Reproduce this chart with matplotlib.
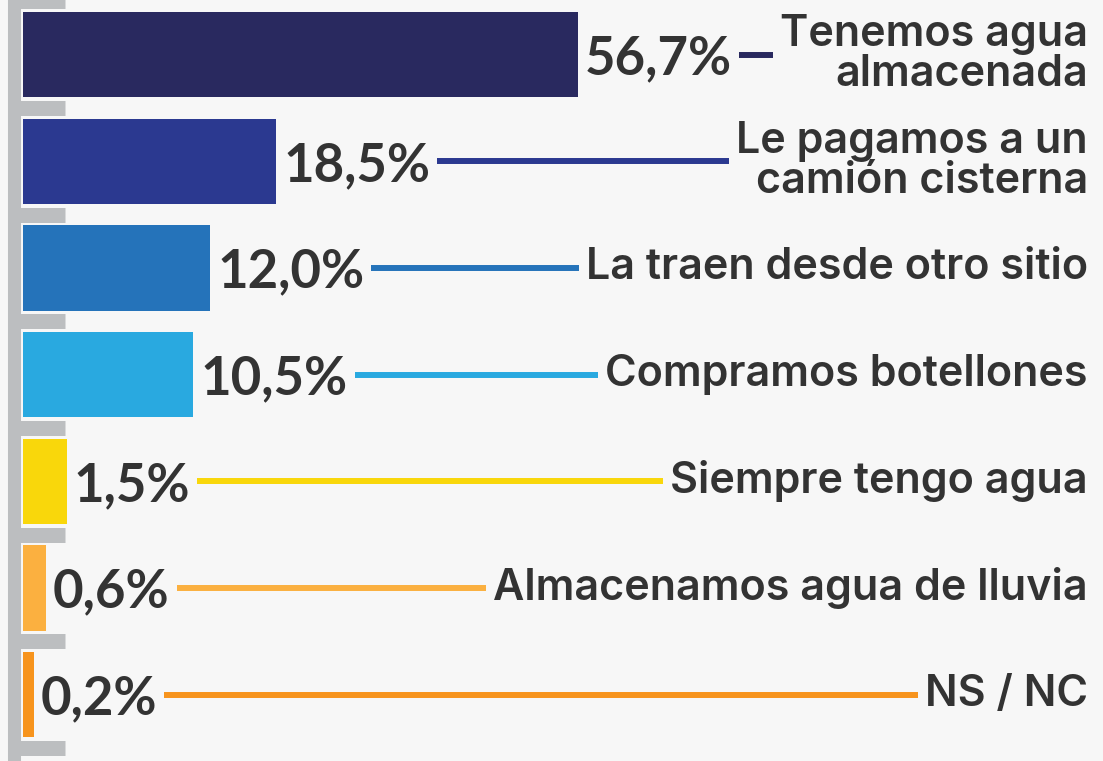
import numpy as np
import matplotlib.pyplot as plt
from matplotlib.transforms import blended_transform_factory

# data
categories = ["Tenemos agua\nalmacenada", "Le pagamos a un\ncamión cisterna",
              "La traen desde otro sitio", "Compramos botellones",
              "Siempre tengo agua", "Almacenamos agua de lluvia", "NS / NC"]
values = [56.7, 18.5, 12.0, 10.5, 1.5, 0.6, 0.2]
value_labels = ["56,7%", "18,5%", "12,0%", "10,5%", "1,5%", "0,6%", "0,2%"]
colors = ["#29295f", "#2b3990", "#2573ba", "#29a9e0", "#f9d70b", "#fbb040", "#f7941d"]

W, H = 1103, 761
bg = "#f7f7f7"
gray = "#bcbec0"
txt = "#333333"
plt.rcParams['font.family'] = ['Lato', 'DejaVu Sans']

fig = plt.figure(figsize=(W / 100, H / 100), dpi=100)
fig.patch.set_facecolor(bg)
ax = fig.add_axes([23 / W, 0, 1 - 23 / W, 1])
ax.set_facecolor(bg)

# the infographic does not draw bars proportionally; a power scale mimics it
p = 0.7
ax.set_xscale('function', functions=(lambda x: np.sign(x) * np.abs(x) ** p,
                                     lambda x: np.sign(x) * np.abs(x) ** (1 / p)))
ax.set_xlim(0, 146.8)
ax.set_ylim(6.623, -0.511)

y = np.arange(len(values))
ax.barh(y, values, height=0.8, color=colors, zorder=2)

# gray axis with tick bars between categories
for s in ['top', 'right', 'bottom']:
    ax.spines[s].set_visible(False)
ax.spines['left'].set_color(gray)
ax.spines['left'].set_linewidth(9.4)
ax.spines['left'].set_position(('outward', 6.8))
ax.set_xticks([])
ax.set_yticks(np.arange(-0.5, len(values) + 0.5, 1))
ax.tick_params(axis='y', direction='in', length=37, width=10.8, color=gray, labelleft=False)

trans = blended_transform_factory(ax.transAxes, ax.transData)
pct_texts, cat_texts = [], []
for i, (v, lab, cat) in enumerate(zip(values, value_labels, categories)):
    t1 = ax.annotate(lab, (v, i), xytext=(5, -3), textcoords='offset points',
                     ha='left', va='center', fontsize=38, fontweight='bold', color=txt)
    t2 = ax.text(0.986, i, cat, transform=trans, ha='right', va='center',
                 fontsize=31, fontweight='semibold', color=txt, linespacing=0.97,
                 multialignment='right', family=['Inter', 'DejaVu Sans'])
    pct_texts.append(t1)
    cat_texts.append(t2)

# connector lines between the percentage and the label
fig.canvas.draw()
r = fig.canvas.get_renderer()
inv = ax.transData.inverted()
for i, (t1, t2) in enumerate(zip(pct_texts, cat_texts)):
    b1 = t1.get_window_extent(r)
    b2 = t2.get_window_extent(r)
    x0 = inv.transform((b1.x1 + 7, 0))[0]
    x1 = inv.transform((b2.x0 - 7, 0))[0]
    ax.plot([x0, x1], [i, i], color=colors[i], lw=4.3, solid_capstyle='butt', zorder=2)

fig.savefig("out.png", dpi=100, facecolor=bg)
